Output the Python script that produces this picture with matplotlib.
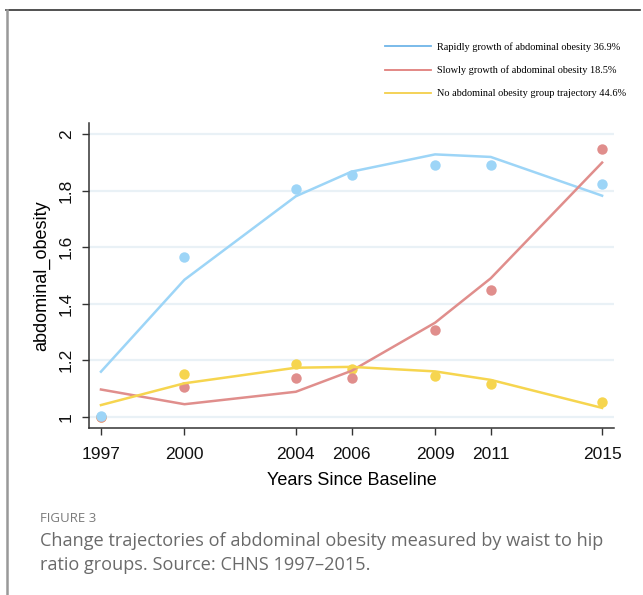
import numpy as np
import matplotlib.pyplot as plt
from matplotlib.lines import Line2D

# survey waves
years = [1997, 2000, 2004, 2006, 2009, 2011, 2015]

# observed group means (dots)
rapid_obs = [1.005, 1.567, 1.806, 1.855, 1.892, 1.892, 1.824]
slow_obs = [1.0, 1.107, 1.138, 1.136, 1.307, 1.447, 1.947]
none_obs = [1.0, 1.151, 1.187, 1.170, 1.144, 1.115, 1.052]

# fitted trajectories (lines)
rapid_fit = [1.160, 1.485, 1.780, 1.867, 1.928, 1.919, 1.782]
slow_fit = [1.097, 1.045, 1.089, 1.163, 1.333, 1.490, 1.899]
none_fit = [1.042, 1.119, 1.174, 1.177, 1.161, 1.131, 1.032]

labels = ['Rapidly growth of abdominal obesity 36.9%',
          'Slowly growth of abdominal obesity 18.5%',
          'No abdominal obesity group trajectory 44.6%']

blue = '#9dd5f7'
red = '#e08e8c'
yellow = '#f6d54f'

fig = plt.figure(figsize=(6.43, 5.95), dpi=100)
ax = fig.add_axes([0.1384, 0.2807, 0.955 - 0.1384, 0.7933 - 0.2807])

for y in [1, 1.2, 1.4, 1.6, 1.8, 2]:
    ax.axhline(y, color='#e9f1f6', lw=1.6, zorder=0)

# dots first, red and yellow under blue at baseline
ax.plot(years, none_obs, 'o', color=yellow, ms=7.5, mec='none', zorder=2)
ax.plot(years, slow_obs, 'o', color=red, ms=7.5, mec='none', zorder=2)
ax.plot(years, rapid_obs, 'o', color=blue, ms=7.5, mec='none', zorder=3)

ax.plot(years, rapid_fit, color=blue, lw=1.8, zorder=4)
ax.plot(years, slow_fit, color=red, lw=1.8, zorder=4)
ax.plot(years, none_fit, color=yellow, lw=1.8, zorder=4)

ax.set_xlim(1996.57, 2015.43)
ax.set_ylim(0.961, 2.039)
ax.set_xticks(years)
ax.set_xticklabels([str(y) for y in years], fontsize=12.5, family='Liberation Sans')
ax.set_yticks([1, 1.2, 1.4, 1.6, 1.8, 2])
ax.set_yticklabels(['1', '1.2', '1.4', '1.6', '1.8', '2'], fontsize=12.5,
                   family='Liberation Sans', rotation=90, va='center')
ax.tick_params(direction='out', length=5, width=1, color='#333333', labelcolor='#111111')
ax.tick_params(axis='x', pad=9)
ax.tick_params(axis='y', pad=6)
ax.set_xlabel('Years Since Baseline', fontsize=13, family='Liberation Sans', labelpad=7)
ax.set_ylabel('abdominal_obesity', fontsize=13, family='Liberation Sans', labelpad=6)

for s in ['top', 'right']:
    ax.spines[s].set_visible(False)
for s in ['left', 'bottom']:
    ax.spines[s].set_color('#333333')
    ax.spines[s].set_linewidth(1.1)

# legend, placed in figure coordinates above the plot
handles = [Line2D([0], [0], color=c, lw=1.3) for c in ['#6fb5e8', '#e07f7c', '#f3cf4a']]
leg = fig.legend(handles, labels, loc='upper left', bbox_to_anchor=(0.585, 0.945),
                 frameon=False, prop={'family': 'Liberation Serif', 'size': 7.4},
                 handlelength=4.4, handletextpad=0.6, labelspacing=1.35)

# outer frame lines
fig.add_artist(Line2D([6 / 643, 640 / 643], [1 - 10 / 595, 1 - 10 / 595],
                      color='#333333', lw=1.2, transform=fig.transFigure))
fig.add_artist(Line2D([7 / 643, 7 / 643], [1 - 10 / 595, 0],
                      color='#999999', lw=1.8, transform=fig.transFigure))

# caption
fig.text(40 / 643, 1 - 518 / 595, 'FIGURE 3', fontsize=9.5, color='#7a7a7a',
         family='Open Sans', va='center')
fig.text(40 / 643, 1 - 553 / 595,
         'Change trajectories of abdominal obesity measured by waist to hip\n'
         'ratio groups. Source: CHNS 1997\u20132015.',
         fontsize=13.1, color='#6a6a6a', family='Open Sans', va='center',
         linespacing=1.4)

fig.savefig('out.png', dpi=100)
